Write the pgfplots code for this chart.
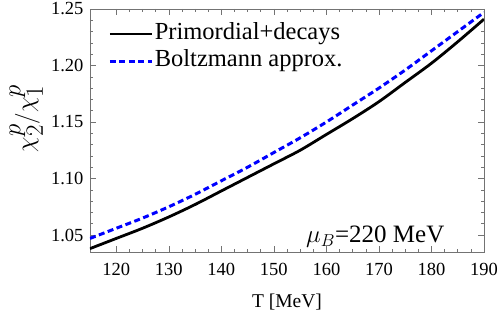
\documentclass[border=0pt]{standalone}
\usepackage{fontspec}
\setmainfont{Liberation Serif}
\usepackage{pgfplots}
\pgfplotsset{compat=1.18}
\begin{document}
\begin{tikzpicture}
\begin{axis}[
  scale only axis,
  width=394pt, height=243pt,
  xmin=115, xmax=190, ymin=1.035, ymax=1.25,
  xtick={120,130,...,190},
  ytick={1.05,1.10,1.15,1.20,1.25},
  yticklabel style={/pgf/number format/fixed,/pgf/number format/fixed zerofill,/pgf/number format/precision=2, xshift=-3pt},
  /pgf/number format/assume math mode=true,
  minor x tick num=3,
  minor y tick num=4,
  tick align=inside,
  major tick length=6pt,
  minor tick length=3pt,
  axis line style={gray!90!black, line width=0.6pt},
  every tick/.style={gray!90!black, line width=0.5pt},
  tick label style={font=\fontsize{18.5}{20}\selectfont, black},
  xticklabel style={yshift=-8pt},
  xlabel={T [MeV]},
  xlabel style={font=\fontsize{19.5}{21}\selectfont, at={(rel axis cs:0.5,-0.205)}, anchor=center},
  ylabel={$\chi_2^p/\chi_1^p$},
  ylabel style={font=\fontsize{34}{36}\selectfont, at={(rel axis cs:-0.162,0.55)}, anchor=center},
  legend style={draw=none, fill=none, at={(0.046,0.947)}, anchor=north west,
    font=\fontsize{24.5}{26}\selectfont, row sep=3pt, inner sep=0pt,
    nodes={inner sep=1.5pt, text height=16pt, text depth=5pt}},
  legend cell align=left,
  legend image code/.code={\draw[#1] (0pt,0pt) -- (42pt,0pt);},
]
\addplot[black, line width=2.8pt, smooth] coordinates {
(115,1.038) (120,1.047) (125,1.056) (130,1.066) (135,1.077) (140,1.089)
(145,1.101) (150,1.113) (155,1.125) (160,1.139) (165,1.153) (170,1.168)
(175,1.185) (180,1.202) (185,1.221) (190,1.241)};
\addlegendentry{Primordial+decays}
\addplot[blue, line width=3pt, dash pattern=on 6pt off 3.5pt, smooth] coordinates {
(115,1.047) (120,1.056) (125,1.065) (130,1.075) (135,1.086) (140,1.098)
(145,1.110) (150,1.123) (155,1.136) (160,1.150) (165,1.165) (170,1.180)
(175,1.196) (180,1.213) (185,1.230) (190,1.247)};
\addlegendentry{Boltzmann approx.}
\node[font=\fontsize{25}{27}\selectfont, anchor=base] at (axis cs:169.3,1.043) {$\mu_B$=220 MeV};
\end{axis}
\pgfresetboundingbox
\path (current axis.south west) ++(-90pt,-63pt) coordinate (bl);
\path (current axis.north east) ++(16pt,9pt) coordinate (tr);
\path[use as bounding box] (bl) rectangle (tr);
\end{tikzpicture}
\end{document}
